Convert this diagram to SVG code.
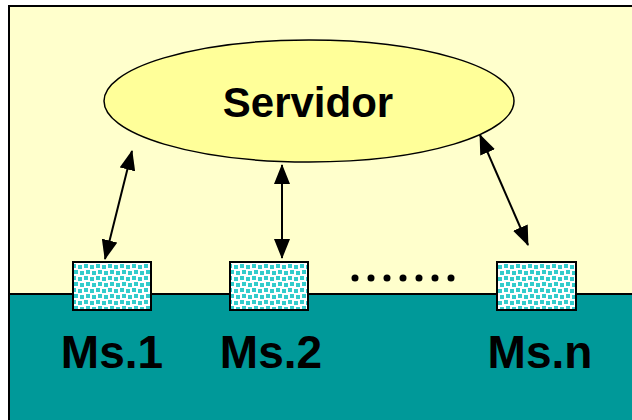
<svg xmlns="http://www.w3.org/2000/svg" width="632" height="420" viewBox="0 0 632 420">
  <style>
    .frame { fill: #ffffcc; stroke: #000; stroke-width: 2; }
    .net { fill: #009999; stroke: #000; stroke-width: 2; }
    .srv { fill: #ffff99; stroke: #000; stroke-width: 1.5; }
    .box { fill: url(#dots); stroke: #000; stroke-width: 2; }
    .lbl { font-family: "Liberation Sans", Arial, sans-serif; font-weight: bold; fill: #000; text-anchor: middle; }
    .link { stroke: #000; stroke-width: 2; fill: none; marker-start: url(#head); marker-end: url(#head); }
  </style>
  <defs>
    <pattern id="dots" width="12" height="12" patternUnits="userSpaceOnUse">
      <rect width="12" height="12" fill="#fff"/>
      <rect x="0" y="0" width="4" height="4" fill="#33cccc"/>
      <rect x="6" y="1" width="4" height="4" fill="#33cccc"/>
      <rect x="2" y="6" width="4" height="4" fill="#33cccc"/>
      <rect x="8" y="7" width="4" height="4" fill="#33cccc"/>
    </pattern>
    <marker id="head" viewBox="0 0 20 16" refX="19" refY="8" markerWidth="20" markerHeight="16" orient="auto-start-reverse" markerUnits="userSpaceOnUse">
      <path d="M0,0 L20,8 L0,16 z" fill="#000"/>
    </marker>
  </defs>

  <!-- background frame and network strip -->
  <rect class="frame" x="9" y="6" width="640" height="430"/>
  <rect class="net" x="9" y="294" width="640" height="140"/>

  <g id="servidor">
    <ellipse class="srv" cx="309" cy="101" rx="205" ry="61"/>
    <text class="lbl" x="308" y="117" font-size="42">Servidor</text>
  </g>

  <g id="ms1">
    <rect class="box" x="73" y="262" width="78" height="48"/>
    <text class="lbl" x="112" y="368" font-size="46">Ms.1</text>
  </g>
  <g id="ms2">
    <rect class="box" x="230" y="262" width="78" height="48"/>
    <text class="lbl" x="271" y="368" font-size="46">Ms.2</text>
  </g>
  <g id="msn">
    <rect class="box" x="497" y="262" width="79" height="48"/>
    <text class="lbl" x="540" y="368" font-size="46">Ms.n</text>
  </g>

  <g id="ellipsis" fill="#000">
    <circle cx="355" cy="278" r="3.5"/>
    <circle cx="371" cy="278" r="3.5"/>
    <circle cx="387" cy="278" r="3.5"/>
    <circle cx="403" cy="278" r="3.5"/>
    <circle cx="419" cy="278" r="3.5"/>
    <circle cx="435" cy="278" r="3.5"/>
    <circle cx="451" cy="278" r="3.5"/>
  </g>

  <g id="connectors">
    <line class="link" x1="132" y1="151" x2="105" y2="259"/>
    <line class="link" x1="282" y1="165" x2="282" y2="258"/>
    <line class="link" x1="480" y1="135" x2="528" y2="245"/>
  </g>
</svg>
